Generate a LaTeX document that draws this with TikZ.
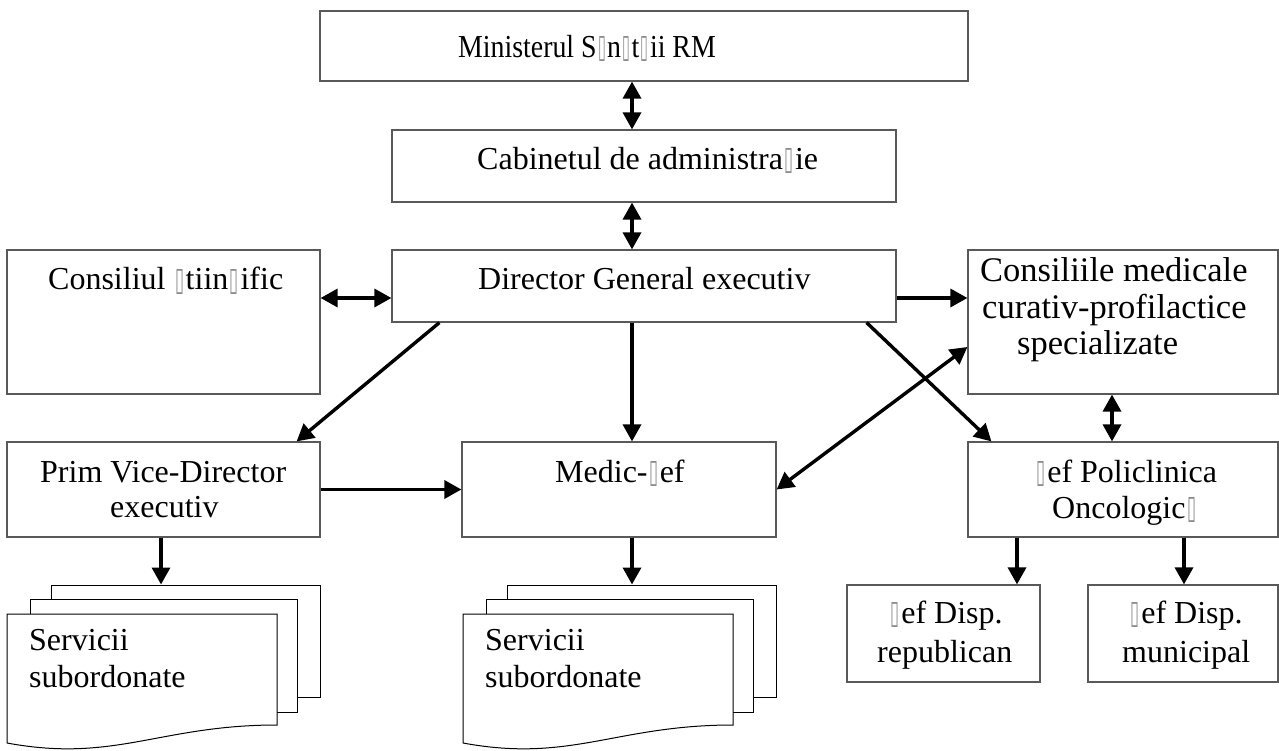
\documentclass[tikz,border=0pt]{standalone}
\usepackage{fontspec}
\usepackage{graphicx}
\setmainfont{Liberation Serif}
\newfontfamily\dvfont{DejaVu Sans}
\usetikzlibrary{arrows.meta,calc,fit}
\newcommand\mg{\makebox[0.38em]{\textcolor{black!45}{\resizebox{9pt}{21pt}{\dvfont ▯}}}}
\begin{document}
\begin{tikzpicture}[x=1pt,y=-1pt,
  box/.style={draw=black!65,line width=1.2pt,fill=white,inner sep=0pt},
  page/.style={draw=black,line width=1pt,fill=white,inner sep=0pt},
  txt/.style={anchor=base west,inner sep=0pt,font=\fontsize{32}{36}\selectfont},
  bigtxt/.style={txt,font=\fontsize{34.5}{38}\selectfont},
  arr/.style={line width=3.4pt,-{Triangle[width=18pt,length=17pt]}},
  darr/.style={line width=3.4pt,{Triangle[width=18pt,length=17pt]}-{Triangle[width=18pt,length=17pt]}}]
\useasboundingbox (0,0) rectangle (1279,751);
% boxes
\node[box,fit={(320,11) (968,81)}] (min) {};
\node[box,fit={(392,130) (896,202)}] (cab) {};
\node[box,fit={(392,250) (896,322)}] (dir) {};
\node[box,fit={(7,250) (320,394)}] (cs) {};
\node[box,fit={(968,250) (1278,394)}] (cm) {};
\node[box,fit={(7,442) (320,537)}] (prim) {};
\node[box,fit={(462,442) (776,537)}] (med) {};
\node[box,fit={(968,442) (1278,537)}] (pol) {};
\node[box,fit={(847,585) (1040,682)}] (rep) {};
\node[box,fit={(1088,585) (1278,682)}] (mun) {};
% stacked pages
\node[page,fit={(51,585) (320,697)}] (s1c) {};
\node[page,fit={(30,599) (297,712)}] (s1b) {};
\draw[page] (7,614) -- (277,614) -- (277,725) .. controls (160,725) and (115,763) .. (7,743) -- cycle;
\node[page,fit={(507,585) (776,697)}] (s2c) {};
\node[page,fit={(486,599) (753,712)}] (s2b) {};
\draw[page] (463,614) -- (733,614) -- (733,725) .. controls (616,725) and (571,763) .. (463,743) -- cycle;
% texts
\node[txt] (tmin) at (458,58) {\scalebox{0.87}[1]{Ministerul S\mg n\mg t\mg ii RM}};
\node[txt] (tcab) at (477,170) {Cabinetul de administra\mg ie};
\node[txt] (tdir) at (478,290) {Director General executiv};
\node[txt] (tcs) at (48,290) {Consiliul \mg tiin\mg ific};
\node[bigtxt] (tcm1) at (980,282) {Consiliile medicale};
\node[bigtxt] (tcm2) at (982,318) {curativ-profilactice};
\node[bigtxt] (tcm3) at (1017,354) {specializate};
\node[txt] (tpr1) at (40,482) {Prim Vice-Director};
\node[txt] (tpr2) at (110,517) {executiv};
\node[txt] (tmed) at (555,482) {Medic-\mg ef};
\node[txt] (tpo1) at (1035,482) {\mg ef Policlinica};
\node[txt] (tpo2) at (1052,518) {Oncologic\mg};
\node[txt] (tre1) at (889,623) {\mg ef Disp.};
\node[txt] (tre2) at (877,662) {republican};
\node[txt] (tmu1) at (1129,623) {\mg ef Disp.};
\node[txt] (tmu2) at (1122,662) {municipal};
\node[txt] (ts11) at (29,650) {Servicii};
\node[txt] (ts12) at (29,687) {subordonate};
\node[txt] (ts21) at (485,650) {Servicii};
\node[txt] (ts22) at (485,687) {subordonate};
% connectors
\coordinate (ax) at (632,0);
\coordinate (ay) at (0,298);
\coordinate (bx) at (1112,0);
\coordinate (rx) at (1017,0);
\coordinate (mx) at (1184,0);
\coordinate (px) at (161,0);
\draw[darr] (min.south -| ax) -- (cab.north -| ax);
\draw[darr] (cab.south -| ax) -- (dir.north -| ax);
\draw[darr] (cs.east |- ay) -- (dir.west |- ay);
\draw[arr] (dir.east |- ay) -- (cm.west |- ay);
\draw[arr] ($(dir.south west)+(48,0)$) -- ($(prim.north east)+(-24,0)$);
\draw[arr] (dir.south -| ax) -- (med.north -| ax);
\draw[arr] ($(dir.south east)+(-30,0)$) -- ($(pol.north west)+(24,0)$);
\draw[arr] (prim.east) -- (med.west);
\draw[darr] (med.east) -- ($(cm.west)+(0,25)$);
\draw[darr] (cm.south -| bx) -- (pol.north -| bx);
\draw[arr] (pol.south -| rx) -- (rep.north -| rx);
\draw[arr] (pol.south -| mx) -- (mun.north -| mx);
\draw[arr] (prim.south -| px) -- (s1c.north -| px);
\draw[arr] (med.south -| ax) -- (s2c.north -| ax);
\end{tikzpicture}
\end{document}
